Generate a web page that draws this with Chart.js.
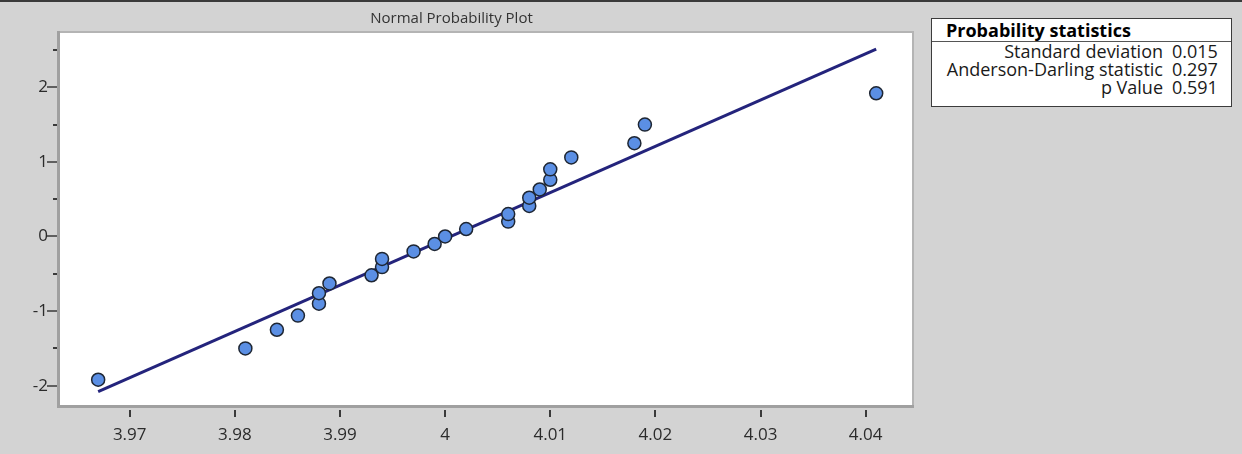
<!DOCTYPE html>
<html>
<head>
<meta charset="utf-8">
<script src="https://cdn.jsdelivr.net/npm/chart.js@4.4.1/dist/chart.umd.min.js"></script>
<style>
  html, body { margin: 0; padding: 0; }
  body { width: 1242px; height: 454px; background: #d3d3d3; position: relative; overflow: hidden; font-family: "Open Sans", sans-serif; }
  #topline { position: absolute; left: 0; top: 0; width: 1242px; height: 2px; background: #3a3a3a; }
  #c { position: absolute; left: 0; top: 0; }
  #stats { position: absolute; left: 931px; top: 18px; width: 299px; height: 87px; background: #fff; border: 1px solid #3c3c3c; color: #1a1a1a; }
  #stats .hdr { height: 22px; border-bottom: 1px solid #555; font-weight: bold; font-size: 18px; line-height: 22px; padding-left: 14px; color: #000; }
  #stats .row { display: flex; height: 18px; line-height: 18px; font-size: 18px; white-space: nowrap; }
  #stats .lbl { width: 231px; text-align: right; }
  #stats .val { margin-left: 9px; }
  #stats .rows { padding-top: 0px; }
</style>
</head>
<body>
<div id="topline"></div>
<canvas id="c" width="1242" height="454"></canvas>
<div id="stats"><div class="hdr" id="statsTitle"></div><div class="rows" id="statsRows"></div></div>
<script>
// ---- data ----
const chartTitle = "Normal Probability Plot";
const xValues = [3.967, 3.981, 3.984, 3.986, 3.988, 3.988, 3.989, 3.993, 3.994, 3.994, 3.997, 3.999, 4.000,
                 4.002, 4.006, 4.006, 4.008, 4.008, 4.009, 4.010, 4.010, 4.012, 4.018, 4.019, 4.041];
const yValues = [-1.92, -1.50, -1.25, -1.06, -0.90, -0.76, -0.63, -0.52, -0.41, -0.30, -0.20, -0.10, 0.00,
                 0.10, 0.20, 0.30, 0.41, 0.52, 0.63, 0.76, 0.90, 1.06, 1.25, 1.50, 1.92];
const fitX = [3.967, 4.041];
const fitY = [-2.08, 2.51];
const xTicks = [3.97, 3.98, 3.99, 4.00, 4.01, 4.02, 4.03, 4.04];
const xTickLabels = ["3.97", "3.98", "3.99", "4", "4.01", "4.02", "4.03", "4.04"];
const yTicks = [-2, -1.5, -1, -0.5, 0, 0.5, 1, 1.5, 2, 2.5];
const yTickLabels = ["-2", "", "-1", "", "0", "", "1", "", "2", ""];
const statsTitle = "Probability statistics";
const statNames = ["Standard deviation", "Anderson-Darling statistic", "p Value"];
const statValues = ["0.015", "0.297", "0.591"];

// ---- stats box ----
document.getElementById('statsTitle').textContent = statsTitle;
const rowsEl = document.getElementById('statsRows');
statNames.forEach((n, i) => {
  const r = document.createElement('div'); r.className = 'row';
  const a = document.createElement('span'); a.className = 'lbl'; a.textContent = n;
  const b = document.createElement('span'); b.className = 'val'; b.textContent = statValues[i];
  r.appendChild(a); r.appendChild(b); rowsEl.appendChild(r);
});

const FONT = "'Open Sans', sans-serif";

const plotDecor = {
  id: 'plotDecor',
  beforeDatasetsDraw(chart) {
    const {ctx, chartArea: a} = chart;
    ctx.save();
    ctx.fillStyle = '#ffffff';
    ctx.fillRect(a.left, a.top, a.right - a.left, a.bottom - a.top);
    // frame
    ctx.fillStyle = '#b4b4b4';
    ctx.fillRect(a.left - 2, a.top - 1, a.right - a.left + 3, 2);      // top
    ctx.fillRect(a.right - 1, a.top - 1, 2, a.bottom - a.top + 2);     // right
    ctx.fillStyle = '#a0a0a0';
    ctx.fillRect(a.left - 3, a.top - 1, 3, a.bottom - a.top + 3);      // left
    ctx.fillRect(a.left - 3, a.bottom - 1, a.right - a.left + 4, 3);   // bottom
    ctx.restore();
  },
  afterDraw(chart) {
    const {ctx, chartArea: a} = chart;
    const xs = chart.scales.x, ys = chart.scales.y;
    ctx.save();
    ctx.fillStyle = '#3a3a3a';
    ys.ticks.forEach((t, i) => {
      const py = Math.round(ys.getPixelForValue(t.value));
      if (yTickLabels[i] !== '') ctx.fillRect(a.left - 13, py - 0.75, 10, 1.5);
      else ctx.fillRect(a.left - 7, py - 1, 4, 2);
    });
    xs.ticks.forEach(t => {
      const px = Math.round(xs.getPixelForValue(t.value));
      ctx.fillRect(px - 1, a.bottom + 4, 2, 7);
    });
    // title
    ctx.fillStyle = '#333333';
    ctx.font = "15px " + FONT;
    ctx.textAlign = 'center';
    ctx.textBaseline = 'middle';
    ctx.fillText(chartTitle, 451.5, 19);
    ctx.restore();
  }
};

new Chart(document.getElementById('c'), {
  type: 'scatter',
  data: {
    datasets: [
      {
        label: 'Data',
        data: xValues.map((x, i) => ({x: x, y: yValues[i]})),
        pointRadius: 6.5,
        pointHoverRadius: 6.5,
        pointBackgroundColor: '#5b8fe4',
        pointBorderColor: '#1e2633',
        pointBorderWidth: 1.5,
        showLine: false,
        order: 0
      },
      {
        label: 'Fit',
        data: fitX.map((x, i) => ({x: x, y: fitY[i]})),
        showLine: true,
        borderColor: '#24247c',
        borderWidth: 3,
        pointRadius: 0,
        fill: false,
        order: 1
      }
    ]
  },
  options: {
    responsive: false,
    devicePixelRatio: 1,
    animation: false,
    layout: { padding: { left: 0, top: 32, right: 329, bottom: 0 } },
    plugins: { legend: { display: false }, tooltip: { enabled: false }, title: { display: false } },
    scales: {
      x: {
        type: 'linear',
        min: 3.96337,
        max: 4.0445,
        border: { display: false },
        grid: { display: false, drawTicks: false },
        afterBuildTicks: s => { s.ticks = xTicks.map(v => ({value: v})); },
        afterFit: s => { s.height = 48; },
        ticks: {
          autoSkip: false,
          maxRotation: 0,
          padding: 19,
          color: '#2b2b2b',
          font: { family: FONT, size: 17 },
          callback: (v, i) => xTickLabels[i]
        }
      },
      y: {
        type: 'linear',
        min: -2.272,
        max: 2.741,
        border: { display: false },
        grid: { display: false, drawTicks: false },
        afterBuildTicks: s => { s.ticks = yTicks.map(v => ({value: v})); },
        afterFit: s => { s.width = 60; },
        ticks: {
          autoSkip: false,
          padding: 12,
          color: '#2b2b2b',
          font: { family: FONT, size: 17 },
          callback: (v, i) => yTickLabels[i]
        }
      }
    }
  },
  plugins: [plotDecor]
});
</script>
</body>
</html>
